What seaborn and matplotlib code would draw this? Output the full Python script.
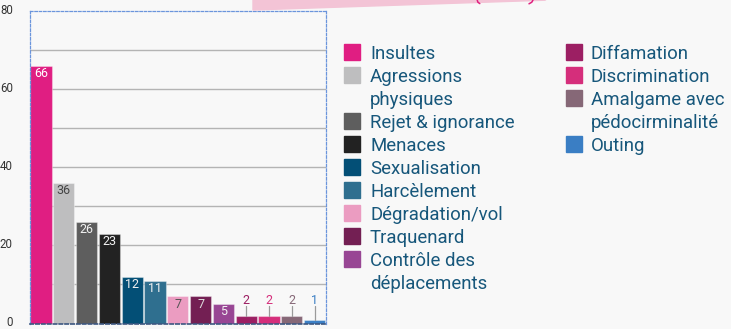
import matplotlib
matplotlib.use("Agg")
import matplotlib.pyplot as plt
import matplotlib.transforms as mtransforms
import seaborn as sns
import pandas as pd
from matplotlib.patches import Rectangle, Polygon
from matplotlib.lines import Line2D

categories = [
    "Insultes", "Agressions\nphysiques", "Rejet & ignorance", "Menaces",
    "Sexualisation", "Harcèlement", "Dégradation/vol", "Traquenard",
    "Contrôle des\ndéplacements", "Diffamation", "Discrimination",
    "Amalgame avec\npédocirminalité", "Outing",
]
counts = [66, 36, 26, 23, 12, 11, 7, 7, 5, 2, 2, 2, 1]
colors = [
    "#e01e82", "#bebebf", "#5e5e5e", "#222222", "#034f76", "#2f6f8f",
    "#eb9cc1", "#731f53", "#984694", "#9c1f63", "#d52e7b", "#866877",
    "#3a7ec4",
]
label_colors = [
    "#ffffff", "#444444", "#f2f2f2", "#f2f2f2", "#f2f2f2", "#f2f2f2",
    "#555555", "#dddddd", "#f2f2f2",
]
y_ticks = [0, 20, 40, 60, 80]

W, H = 731, 329
BG = "#f8f8f8"
TEXT_BLUE = "#17577b"

sns.set_theme(style="white")
plt.rcParams["font.family"] = ["Roboto", "DejaVu Sans"]

fig = plt.figure(figsize=(W / 100, H / 100), dpi=100, facecolor=BG)

def fx(px):
    return px / W

def fy(py):
    return 1 - py / H

ax_left, ax_right, ax_top, ax_bottom = 29.5, 326, 11, 323.5
ax = fig.add_axes([fx(ax_left), fy(ax_bottom), fx(ax_right - ax_left),
                   (ax_bottom - ax_top) / H])
ax.set_facecolor(BG)

df = pd.DataFrame({"cat": categories, "n": counts})
sns.barplot(data=df, x="cat", y="n", hue="cat", palette=colors, legend=False,
            width=0.93, ax=ax, saturation=1, edgecolor=(1, 1, 1, 0.35),
            linewidth=0.8, zorder=2)

ax.set_xlim(-0.5, len(categories) - 0.5)
ax.set_ylim(0, 80)
ax.set_yticks(y_ticks)
ax.set_yticklabels([str(t) for t in y_ticks], fontsize=8.3, color="#333333")
ax.tick_params(axis="y", which="both", length=0, pad=12)
# lift the tick labels slightly so the bottom one stays inside the figure
lift = mtransforms.ScaledTranslation(0, 2.2 / 100, fig.dpi_scale_trans)
for lab in ax.get_yticklabels():
    lab.set_transform(lab.get_transform() + lift)
ax.set_xticks([])
ax.set_xlabel("")
ax.set_ylabel("")
for g in range(10, 80, 10):
    ax.axhline(g, color="#b4b4b4", lw=1, zorder=1)

for side, sp in ax.spines.items():
    sp.set_visible(True)
    sp.set_color("#6b95dc")
    sp.set_linewidth(0.9)
    sp.set_linestyle((0, (2, 1.5)))
    sp.set_zorder(4)
ax.spines["bottom"].set_color("#3c5680")
ax.spines["bottom"].set_linewidth(1.2)

# value labels: inside the top of tall bars, raised with a leader line for short ones
for i, (v, c) in enumerate(zip(counts, colors)):
    if v >= 5:
        ax.annotate(str(v), (i, v), xytext=(0, -8), textcoords="offset pixels",
                    ha="center", va="center", fontsize=9,
                    color=label_colors[i], zorder=5)
    else:
        ax.plot([i, i], [v, 4.6], color="#9a9a9a", lw=0.9, zorder=3)
        ax.text(i, 6.0, str(v), ha="center", va="center", fontsize=9,
                color=c, zorder=5)

# legend in two columns, labels wrapping onto extra lines
line_h = 23
first_y = 52.3
columns = [(344, 370, categories[:9], colors[:9]),
           (566, 591, categories[9:], colors[9:])]
for sw_x, tx_x, cats, cols in columns:
    row = 0
    for cat, col in zip(cats, cols):
        yc = first_y + row * line_h
        fig.patches.append(Rectangle((fx(sw_x), fy(yc + 8)), 16 / W, 16 / H,
                                     transform=fig.transFigure, color=col,
                                     zorder=3))
        for k, line in enumerate(cat.split("\n")):
            fig.text(fx(tx_x), fy(yc + k * line_h), line, ha="left",
                     va="center_baseline", fontsize=13.4, color=TEXT_BLUE)
        row += len(cat.split("\n"))

# pink heading band clipped at the top edge, with the tips of its brackets
fig.patches.append(Polygon([(fx(253), fy(-2)), (fx(253), fy(10)),
                            (fx(545), fy(0.2)), (fx(548), fy(-2))],
                           closed=True, transform=fig.transFigure,
                           color="#f3c4d6", zorder=0))
for xs, ys in [([477.2, 477.9, 479.8], [0, 2.2, 3.6]),
               ([533.0, 531.8, 529.0], [0, 2.2, 3.8])]:
    fig.add_artist(Line2D([fx(x) for x in xs], [fy(y) for y in ys],
                          transform=fig.transFigure, color="#e0207f",
                          lw=1.1, solid_capstyle="round"))

fig.savefig("out.png", dpi=100, facecolor=BG)
